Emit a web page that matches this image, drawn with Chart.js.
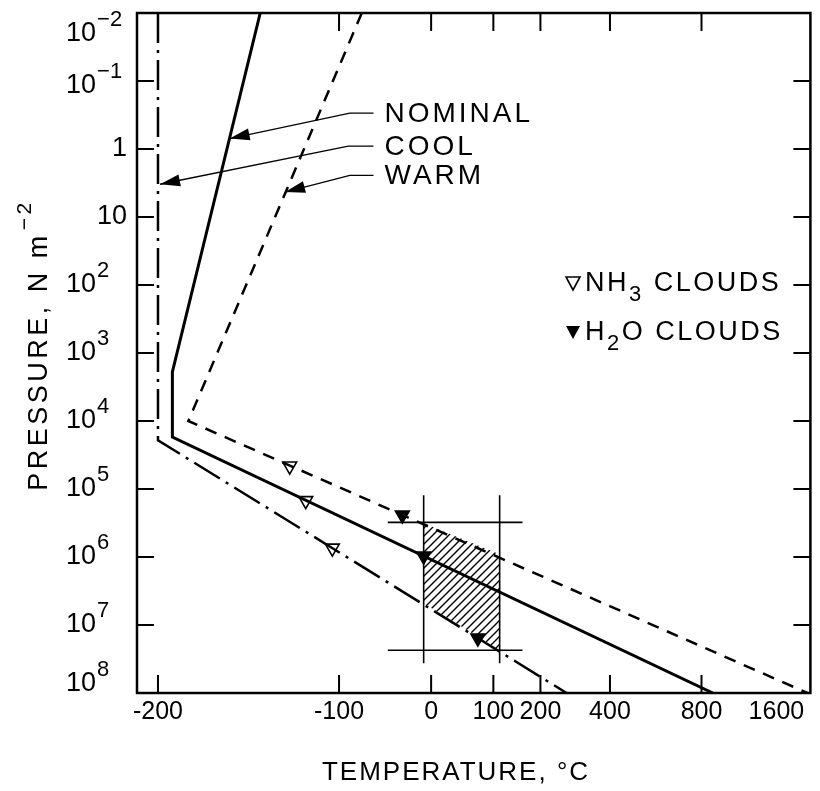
<!DOCTYPE html>
<html>
<head>
<meta charset="utf-8">
<title>Pressure vs temperature profiles</title>
<script src="https://cdn.jsdelivr.net/npm/chart.js@4.4.1/dist/chart.umd.min.js"></script>
<style>
  html, body { margin: 0; padding: 0; background: #fff; }
  #wrap { width: 820px; height: 791px; position: relative; }
</style>
</head>
<body>
<div id="wrap"><canvas id="profileChart"></canvas></div>
<script>
// ---- data (temperature in °C, pressure in N m^-2) ----
const tempTicksC = [-200, -100, 0, 100, 200, 400, 800, 1600];
const pressureTicks = [1e-2, 1e-1, 1, 10, 1e2, 1e3, 1e4, 1e5, 1e6, 1e7, 1e8];

const nominalTemp = [-155, -195, -195, 864];
const nominalPress = [1e-2, 1.9e3, 1.72e4, 1e8];
const warmTemp = [-79.5, -189, 1572];
const warmPress = [1e-2, 1.0e4, 1e8];
const coolTemp = [-200, -200, 267];
const coolPress = [1e-2, 1.92e4, 1e8];

const nh3Temp = [-137, -126, -105.6];
const nh3Press = [4.6e4, 1.48e5, 7.4e5];
const h2oTemp = [-36.5, -10, 72];
const h2oPress = [2.42e5, 9.7e5, 1.56e7];

// shaded band and the lines framing it
const hatchTemp = [-10, 112];
const hatchTopPress = [3.2e5, 9.1e5];
const hatchBottomPress = [4.8e6, 2.35e7];
const boxVertTemp = [-10, 112];
const boxVertPress = [1.24e5, 3.66e7];
const boxHorizTemp = [-53, 159];
const boxHorizPress = [3.1e5, 2.35e7];

// label leaders: start, elbow, arrow tip
const labelNames = ['NOMINAL', 'COOL', 'WARM'];
const leaderTemp = [[-68, -90.6, -171], [-68, -92, -199.3], [-68, -90.6, -140]];
const leaderPress = [[0.296, 0.296, 0.703], [0.91, 0.91, 3.3], [2.44, 2.44, 4.29]];

// the temperature axis is logarithmic in (T + 265)
const AXIS_OFFSET = 265;
const toAxis = c => c + AXIS_OFFSET;
const pts = (ts, ps) => ts.map((t, i) => ({ x: toAxis(t), y: ps[i] }));

// diagonal hatch pattern
function hatchPattern() {
    const c = document.createElement('canvas');
    c.width = 8; c.height = 8;
    const g = c.getContext('2d');
    g.strokeStyle = '#000';
    g.lineWidth = 1.4;
    g.beginPath();
    g.moveTo(0, 8); g.lineTo(8, 0);
    g.moveTo(-1, 1); g.lineTo(1, -1);
    g.moveTo(7, 9); g.lineTo(9, 7);
    g.stroke();
    return g.createPattern(c, 'repeat');
}

const FONT = '"Liberation Sans", Arial, sans-serif';

function plainLine(data, extra) {
    return Object.assign({
        data: data, borderColor: '#000', borderWidth: 2.5,
        pointRadius: 0, fill: false, tension: 0
    }, extra || {});
}

const datasets = [
    plainLine(pts(hatchTemp, hatchTopPress), { borderWidth: 0, fill: '+1', backgroundColor: hatchPattern() }),
    plainLine(pts(hatchTemp, hatchBottomPress), { borderWidth: 0 }),
    plainLine(pts([boxVertTemp[0], boxVertTemp[0]], boxVertPress), { borderWidth: 1.6 }),
    plainLine(pts([boxVertTemp[1], boxVertTemp[1]], boxVertPress), { borderWidth: 1.6 }),
    plainLine(pts(boxHorizTemp, [boxHorizPress[0], boxHorizPress[0]]), { borderWidth: 1.6 }),
    plainLine(pts(boxHorizTemp, [boxHorizPress[1], boxHorizPress[1]]), { borderWidth: 1.6 }),
    plainLine(pts(nominalTemp, nominalPress), { borderWidth: 3 }),
    plainLine(pts(warmTemp, warmPress), { borderDash: [12, 9] }),
    plainLine(pts(coolTemp, coolPress), { borderDash: [30, 7, 3, 7] })
];
leaderTemp.forEach((ts, i) => {
    datasets.push(plainLine(pts(ts, leaderPress[i]), { borderWidth: 1.3 }));
});
datasets.push({
    data: pts(nh3Temp, nh3Press), showLine: false,
    pointStyle: 'triangle', rotation: 180, pointRadius: 8,
    pointBackgroundColor: '#fff', pointBorderColor: '#000', pointBorderWidth: 1.6
});
datasets.push({
    data: pts(h2oTemp, h2oPress), showLine: false,
    pointStyle: 'triangle', rotation: 180, pointRadius: 8,
    pointBackgroundColor: '#000', pointBorderColor: '#000', pointBorderWidth: 1.6
});

// frame, inward ticks, labels, titles and annotation text
const decorations = {
    id: 'decorations',
    afterDraw(chart) {
        const { ctx, chartArea: a } = chart;
        const xs = chart.scales.x, ys = chart.scales.y;
        ctx.save();
        ctx.fillStyle = '#000';
        ctx.strokeStyle = '#000';

        // frame
        ctx.lineWidth = 2.5;
        ctx.strokeRect(a.left, a.top, a.right - a.left, a.bottom - a.top);

        // x ticks + labels
        ctx.lineWidth = 2;
        ctx.font = '25px ' + FONT;
        ctx.textAlign = 'center';
        ctx.textBaseline = 'top';
        tempTicksC.forEach(t => {
            const px = xs.getPixelForValue(toAxis(t));
            if (px < a.right - 3) {
                ctx.beginPath();
                ctx.moveTo(px, a.bottom); ctx.lineTo(px, a.bottom - 18);
                ctx.moveTo(px, a.top); ctx.lineTo(px, a.top + 18);
                ctx.stroke();
            }
            ctx.fillText(String(t), Math.min(px, a.right - 34), a.bottom + 7);
        });

        // y ticks + labels
        ctx.textBaseline = 'middle';
        pressureTicks.forEach((p, i) => {
            const py = ys.getPixelForValue(p);
            const e = Math.round(Math.log10(p));
            if (py > a.top + 3 && py < a.bottom - 3) {
                ctx.beginPath();
                ctx.moveTo(a.left, py); ctx.lineTo(a.left + 17, py);
                ctx.moveTo(a.right, py); ctx.lineTo(a.right - 17, py);
                ctx.stroke();
            }
            ctx.font = '27px ' + FONT;
            if (e === 0 || e === 1) {
                ctx.textAlign = 'right';
                ctx.fillText(e === 0 ? '1' : '10', 127, py);
            } else {
                // end labels are nudged inside the frame
                let ly = py;
                if (i === 0) ly = py + 21;
                else if (i === 1) ly = py + 5;
                else if (i === pressureTicks.length - 1) ly = py - 9;
                ctx.textAlign = 'left';
                ctx.fillText('10', 66, ly);
                const w = ctx.measureText('10').width;
                ctx.font = '22px ' + FONT;
                ctx.fillText(e < 0 ? '\u2212' + (-e) : String(e), 66 + w + 1, ly - 14);
            }
        });

        // axis titles
        ctx.letterSpacing = '2px';
        ctx.font = '26px ' + FONT;
        ctx.textAlign = 'center';
        ctx.textBaseline = 'middle';
        ctx.fillText('TEMPERATURE, \u00B0C', 456, 773);

        ctx.save();
        ctx.translate(40, 346);
        ctx.rotate(-Math.PI / 2);
        ctx.letterSpacing = '3.5px';
        const main = 'PRESSURE, N m';
        ctx.font = '27px ' + FONT;
        const mw = ctx.measureText(main).width;
        ctx.font = '21px ' + FONT;
        const sup = '\u22122';
        const sw = ctx.measureText(sup).width;
        const start = -(mw + sw) / 2;
        ctx.textAlign = 'left';
        ctx.font = '27px ' + FONT;
        ctx.fillText(main, start, 0);
        ctx.font = '21px ' + FONT;
        ctx.fillText(sup, start + mw + 2, -15);
        ctx.restore();

        // profile labels with arrowheads on leaders
        ctx.letterSpacing = '3px';
        ctx.font = '28px ' + FONT;
        ctx.textAlign = 'left';
        labelNames.forEach((name, i) => {
            const ts = leaderTemp[i], ps = leaderPress[i];
            const sx = xs.getPixelForValue(toAxis(ts[0])), sy = ys.getPixelForValue(ps[0]);
            ctx.fillText(name, sx + 11, sy + 1);
            const ex = xs.getPixelForValue(toAxis(ts[2])), ey = ys.getPixelForValue(ps[2]);
            const bx = xs.getPixelForValue(toAxis(ts[1])), by = ys.getPixelForValue(ps[1]);
            const ang = Math.atan2(ey - by, ex - bx);
            const len = 20, half = 6;
            ctx.beginPath();
            ctx.moveTo(ex, ey);
            ctx.lineTo(ex - len * Math.cos(ang) - half * Math.sin(ang), ey - len * Math.sin(ang) + half * Math.cos(ang));
            ctx.lineTo(ex - len * Math.cos(ang) + half * Math.sin(ang), ey - len * Math.sin(ang) - half * Math.cos(ang));
            ctx.closePath();
            ctx.fill();
        });

        // legend
        const legendRows = [
            { y: 284, filled: false, parts: ['NH', '3', ' CLOUDS'] },
            { y: 333, filled: true, parts: ['H', '2', 'O CLOUDS'] }
        ];
        legendRows.forEach(r => {
            const tx = 573;
            ctx.beginPath();
            ctx.moveTo(tx - 7, r.y - 7); ctx.lineTo(tx + 7, r.y - 7); ctx.lineTo(tx, r.y + 6);
            ctx.closePath();
            ctx.lineWidth = 1.6;
            if (r.filled) ctx.fill(); else ctx.stroke();
            let x = 585;
            ctx.letterSpacing = '2.5px';
            ctx.font = '27px ' + FONT;
            ctx.fillText(r.parts[0], x, r.y);
            x += ctx.measureText(r.parts[0]).width;
            ctx.font = '22px ' + FONT;
            ctx.fillText(r.parts[1], x, r.y + 11);
            x += ctx.measureText(r.parts[1]).width;
            ctx.font = '27px ' + FONT;
            ctx.fillText(r.parts[2], x, r.y);
        });

        ctx.restore();
    }
};

new Chart(document.getElementById('profileChart'), {
    type: 'line',
    data: { datasets: datasets },
    options: {
        responsive: true,
        maintainAspectRatio: false,
        animation: false,
        layout: { padding: { left: 137, right: 9, top: 13, bottom: 98 } },
        plugins: { legend: { display: false }, tooltip: { enabled: false } },
        scales: {
            x: { type: 'logarithmic', display: false, min: toAxis(-206.65), max: toAxis(1600) },
            y: { type: 'logarithmic', display: false, reverse: true, min: 1e-2, max: 1e8 }
        }
    },
    plugins: [decorations]
});
</script>
</body>
</html>
